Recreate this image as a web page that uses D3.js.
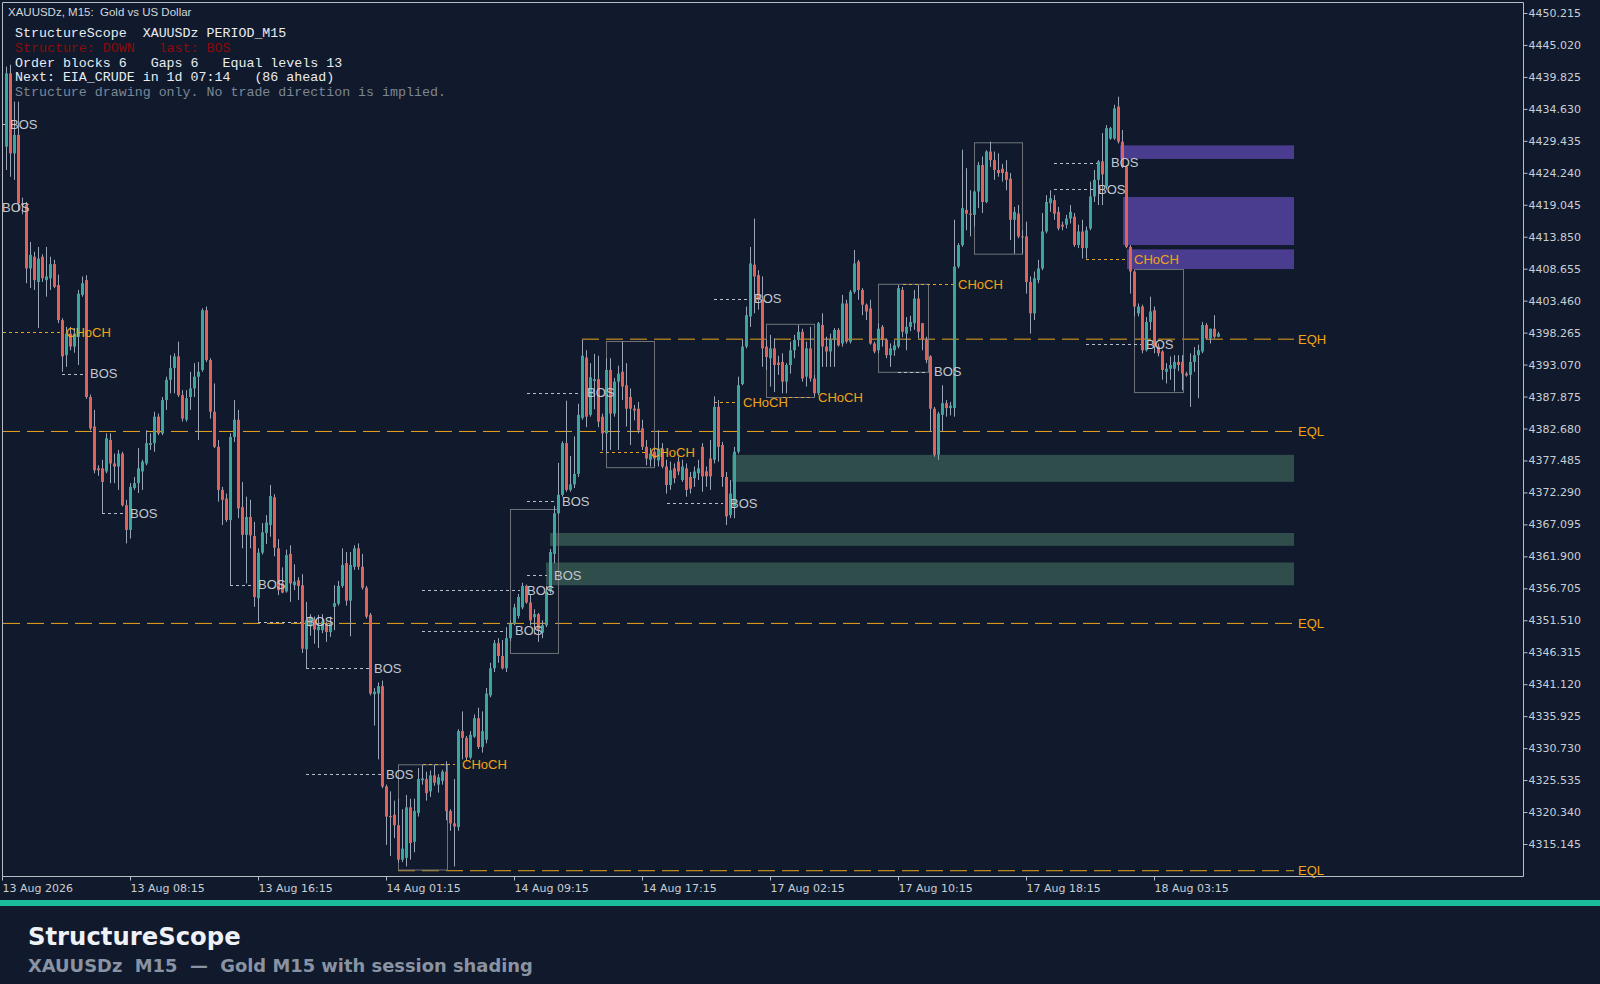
<!DOCTYPE html>
<html>
<head>
<meta charset="utf-8">
<script src="https://cdn.jsdelivr.net/npm/d3@7"></script>
<style>
  html, body { margin: 0; padding: 0; background: #101a2c; }
  svg { display: block; }
</style>
</head>
<body>
<svg id="chart" width="1600" height="984"></svg>
<script>
// ---- candle data (M15, bar index 0..303) ----
const opens = [
  4428.5,4440.4,4427.4,4430.4,4419.3,4419.0,4408.7,4410.6,4406.5,4410.6,
  4406.8,4407.1,4409.4,4406.0,4400.3,4394.6,4398.1,4396.0,4397.6,4404.4,
  4406.8,4387.8,4383.0,4376.2,4376.2,4375.7,4380.8,4377.0,4376.5,4378.6,
  4370.2,4366.2,4373.0,4373.8,4375.7,4377.0,4380.0,4380.3,4384.6,4381.9,
  4387.3,4390.6,4392.5,4394.4,4388.1,4384.1,4387.8,4389.2,4391.1,4392.2,
  4401.9,4393.8,4385.4,4379.7,4372.7,4371.3,4367.8,4381.3,4384.1,4369.9,
  4365.4,4368.3,4365.2,4355.1,4362.5,4365.7,4367.0,4371.5,4363.2,4357.5,
  4356.2,4362.3,4357.2,4358.0,4357.2,4346.8,4350.5,4351.6,4349.9,4349.9,
  4351.0,4349.6,4353.7,4354.2,4357.1,4360.8,4354.7,4360.2,4363.2,4360.2,
  4356.8,4352.4,4339.5,4339.6,4340.8,4324.5,4319.7,4319.9,4318.2,4312.6,
  4312.9,4321.1,4315.5,4320.2,4325.5,4325.7,4323.7,4326.3,4324.8,4325.4,
  4326.9,4320.5,4318.5,4317.9,4333.5,4332.4,4329.2,4332.6,4335.6,4330.9,
  4332.1,4339.3,4343.7,4347.8,4345.7,4343.7,4348.6,4350.9,4352.2,4353.6,
  4357.1,4354.4,4352.0,4352.5,4349.5,4350.7,4356.2,4362.3,4368.9,4371.9,
  4380.3,4372.7,4373.6,4375.3,4384.4,4394.2,4384.9,4390.4,4390.7,4384.6,
  4381.9,4392.2,4385.1,4390.3,4391.9,4389.7,4387.8,4385.9,4385.9,4382.7,
  4379.7,4377.6,4378.9,4377.5,4379.4,4376.5,4373.5,4376.2,4377.3,4374.3,
  4376.2,4374.8,4374.6,4375.4,4379.7,4375.7,4377.8,4377.6,4386.2,4380.0,
  4374.8,4368.6,4370.0,4378.9,4389.9,4396.0,4400.9,4409.3,4407.6,4403.6,
  4396.0,4394.1,4395.7,4393.4,4393.5,4390.3,4393.0,4395.4,4397.1,4398.4,
  4391.1,4395.7,4390.8,4388.4,4399.5,4396.0,4395.2,4397.1,4398.7,4396.5,
  4403.0,4396.8,4404.9,4409.8,4405.2,4402.8,4402.2,4396.5,4395.4,4399.2,
  4397.1,4394.6,4395.4,4396.0,4405.2,4398.1,4399.2,4399.8,4403.8,4399.8,
  4397.1,4394.4,4385.9,4378.4,4384.9,4386.8,4386.0,4386.0,4409.0,4412.5,
  4418.2,4417.6,4417.4,4421.2,4425.5,4419.5,4427.7,4426.3,4424.7,4424.9,
  4424.4,4423.3,4416.6,4417.6,4413.9,4413.9,4406.5,4401.4,4406.8,4408.7,
  4414.7,4419.3,4419.8,4417.9,4415.8,4415.8,4416.8,4417.1,4412.5,4414.7,
  4412.0,4415.2,4420.4,4423.1,4426.1,4422.0,4429.8,4429.8,4435.0,4429.3,
  4425.2,4412.2,4408.2,4401.4,4402.5,4395.4,4400.0,4401.9,4396.0,4395.2,
  4391.9,4392.4,4392.4,4393.5,4393.5,4391.6,4391.4,4393.5,4394.6,4395.2,
  4399.5,4397.3,4398.9,4397.6
];
const highs = [
  4441.5,4441.8,4435.8,4435.8,4420.2,4419.5,4413.0,4411.4,4412.2,4411.0,
  4412.2,4410.6,4410.1,4407.7,4400.6,4399.2,4399.2,4399.0,4405.2,4407.4,
  4407.6,4388.2,4385.7,4376.7,4377.6,4381.9,4381.9,4378.6,4379.2,4378.9,
  4371.1,4373.8,4374.8,4379.5,4377.6,4382.4,4381.9,4385.4,4385.1,4387.8,
  4391.1,4394.6,4394.9,4396.8,4388.9,4388.9,4391.9,4393.3,4393.5,4402.2,
  4402.5,4394.1,4390.0,4380.8,4373.2,4372.1,4381.9,4387.3,4385.7,4374.0,
  4371.6,4371.1,4367.5,4363.2,4367.3,4368.6,4373.5,4372.0,4364.7,4360.1,
  4363.0,4363.7,4360.6,4358.5,4359.0,4354.5,4352.5,4352.1,4352.4,4352.5,
  4351.3,4352.1,4357.2,4357.9,4363.2,4362.6,4362.6,4363.7,4364.0,4362.3,
  4357.1,4352.7,4340.5,4341.4,4341.7,4324.8,4323.7,4322.2,4322.5,4320.8,
  4323.1,4322.5,4322.5,4327.5,4328.0,4326.9,4327.1,4328.0,4326.5,4327.2,
  4328.6,4320.8,4325.7,4333.8,4336.7,4332.7,4333.5,4336.2,4337.3,4336.7,
  4340.5,4344.6,4348.3,4348.6,4348.3,4350.4,4351.5,4354.2,4355.8,4357.6,
  4357.3,4355.6,4353.3,4352.7,4351.5,4357.1,4363.1,4370.1,4377.1,4380.6,
  4387.2,4378.2,4381.4,4386.7,4397.1,4395.4,4393.3,4394.8,4394.5,4385.1,
  4394.1,4394.1,4390.9,4392.9,4396.8,4393.3,4389.2,4386.5,4387.0,4384.1,
  4380.8,4379.5,4379.7,4382.4,4380.3,4377.6,4377.3,4377.0,4378.1,4377.6,
  4377.0,4375.6,4376.5,4377.6,4380.3,4376.5,4380.8,4387.9,4387.3,4380.5,
  4375.6,4374.3,4379.7,4391.1,4397.1,4402.5,4412.2,4416.8,4408.4,4407.4,
  4397.1,4397.9,4397.3,4394.5,4394.9,4393.3,4396.8,4397.9,4399.5,4398.9,
  4396.8,4399.2,4391.4,4400.0,4401.4,4397.6,4398.1,4399.0,4399.0,4404.4,
  4403.6,4405.2,4411.7,4410.1,4405.5,4403.0,4403.6,4396.8,4399.8,4399.5,
  4397.3,4396.5,4397.0,4406.0,4405.7,4400.8,4401.0,4405.2,4406.0,4399.8,
  4397.6,4394.6,4386.2,4385.4,4389.7,4387.3,4387.0,4416.6,4412.8,4428.0,
  4425.0,4421.4,4421.4,4426.0,4426.9,4427.9,4429.3,4427.7,4427.4,4425.7,
  4426.3,4424.2,4418.7,4419.0,4414.9,4416.3,4407.4,4408.2,4410.1,4417.7,
  4420.6,4421.4,4420.6,4418.7,4416.3,4417.4,4419.0,4417.7,4415.8,4416.6,
  4415.5,4422.8,4424.7,4426.3,4430.7,4432.0,4431.7,4435.3,4436.6,4431.2,
  4425.5,4412.5,4408.4,4403.0,4402.8,4400.8,4404.1,4402.5,4396.5,4395.4,
  4393.3,4394.4,4394.6,4394.6,4394.6,4391.9,4394.9,4395.9,4396.3,4400.0,
  4399.8,4398.9,4401.1,4398.4
];
const lows = [
  4424.7,4423.6,4423.1,4418.2,4417.5,4406.3,4405.5,4405.2,4399.0,4406.5,
  4404.1,4405.2,4405.5,4399.8,4391.9,4392.7,4395.4,4395.0,4393.0,4404.1,
  4387.5,4382.4,4375.4,4375.0,4368.9,4375.4,4373.8,4373.8,4372.7,4370.0,
  4364.0,4364.8,4372.7,4372.2,4372.7,4376.7,4379.2,4378.9,4381.6,4381.6,
  4385.7,4388.4,4388.4,4387.8,4383.8,4383.8,4385.7,4387.8,4380.8,4391.9,
  4393.5,4384.3,4379.5,4370.8,4367.0,4367.5,4357.2,4380.5,4368.1,4363.2,
  4357.5,4363.2,4353.7,4351.3,4362.2,4363.9,4365.1,4361.9,4355.6,4355.9,
  4356.0,4354.5,4356.4,4354.8,4346.2,4343.7,4349.0,4347.7,4347.0,4349.4,
  4348.0,4348.8,4349.9,4353.9,4356.8,4353.9,4348.9,4359.7,4359.7,4356.5,
  4351.8,4339.3,4334.4,4328.9,4324.2,4315.0,4313.2,4316.1,4312.1,4312.2,
  4311.5,4312.6,4313.8,4319.6,4324.8,4322.2,4322.8,4324.6,4323.5,4324.8,
  4319.0,4317.3,4311.5,4317.3,4328.9,4328.6,4328.9,4332.4,4330.6,4330.0,
  4331.5,4339.0,4343.1,4344.6,4343.5,4343.1,4348.1,4350.7,4351.8,4353.3,
  4354.2,4350.7,4349.2,4348.0,4348.6,4350.4,4355.9,4360.8,4368.7,4371.6,
  4372.4,4372.4,4373.0,4374.8,4384.1,4382.9,4384.6,4385.8,4382.9,4379.1,
  4378.6,4379.2,4384.6,4379.2,4387.3,4383.0,4380.0,4384.0,4381.9,4379.2,
  4376.7,4376.5,4376.5,4376.5,4376.2,4372.1,4372.7,4373.8,4375.1,4374.0,
  4371.6,4372.1,4373.2,4374.3,4372.4,4373.2,4372.7,4377.0,4377.3,4373.2,
  4367.0,4368.1,4368.1,4378.6,4389.7,4395.7,4399.2,4401.4,4402.0,4392.7,
  4392.2,4389.5,4388.6,4391.4,4388.4,4388.4,4391.6,4394.1,4396.0,4390.3,
  4389.5,4390.3,4387.9,4388.1,4392.7,4392.7,4392.7,4392.7,4396.0,4396.0,
  4396.5,4396.5,4404.6,4403.6,4401.1,4400.3,4396.3,4394.9,4394.9,4396.0,
  4394.1,4392.7,4394.5,4395.7,4397.5,4395.4,4398.5,4398.7,4397.3,4395.4,
  4393.3,4382.2,4378.1,4377.6,4382.2,4384.6,4384.8,4384.6,4408.7,4412.2,
  4414.9,4413.9,4415.5,4418.5,4417.7,4419.3,4425.2,4423.1,4423.6,4422.8,
  4421.4,4413.3,4411.1,4413.6,4411.1,4404.6,4398.1,4400.3,4406.3,4408.4,
  4414.4,4417.9,4416.6,4414.9,4414.9,4415.2,4416.0,4412.2,4412.0,4410.3,
  4410.3,4414.9,4419.5,4419.0,4419.0,4421.5,4429.6,4429.6,4429.0,4425.0,
  4412.0,4404.6,4400.9,4400.9,4394.9,4395.2,4398.7,4394.9,4394.4,4390.6,
  4390.0,4390.6,4388.7,4392.0,4388.9,4391.1,4386.2,4391.9,4387.6,4394.9,
  4397.1,4396.5,4397.3,4397.5
];
const closes = [
  4440.4,4427.4,4430.4,4419.3,4419.0,4408.7,4410.9,4406.8,4410.3,4407.1,
  4407.4,4409.4,4405.7,4400.3,4394.4,4398.1,4396.0,4398.1,4404.6,4406.3,
  4387.8,4382.7,4375.9,4375.9,4374.0,4381.1,4377.0,4376.5,4378.6,4370.2,
  4366.2,4373.2,4373.8,4376.2,4377.3,4380.3,4380.3,4384.6,4381.9,4387.3,
  4390.6,4392.5,4394.4,4388.1,4384.3,4387.6,4389.2,4391.1,4391.9,4401.9,
  4393.8,4385.4,4379.7,4372.7,4371.1,4367.8,4381.3,4384.1,4369.7,4365.4,
  4368.3,4365.3,4355.3,4362.5,4365.8,4367.4,4371.7,4363.3,4356.4,4356.0,
  4362.1,4357.5,4357.8,4357.1,4346.9,4351.5,4352.1,4350.0,4350.5,4351.3,
  4349.6,4351.0,4354.3,4357.1,4360.5,4354.7,4360.5,4363.2,4360.2,4356.8,
  4352.1,4339.6,4339.9,4340.8,4324.5,4319.6,4319.5,4318.2,4312.6,4314.4,
  4321.1,4315.3,4320.5,4325.7,4325.8,4323.4,4326.3,4325.1,4326.0,4326.9,
  4320.5,4318.5,4318.0,4333.5,4332.4,4329.2,4332.9,4335.6,4330.9,4333.5,
  4339.6,4343.7,4347.8,4345.7,4343.7,4348.6,4350.9,4353.6,4355.3,4357.1,
  4354.4,4351.5,4352.5,4350.0,4350.7,4356.2,4362.6,4368.9,4371.9,4380.3,
  4372.7,4373.6,4375.3,4384.9,4394.5,4384.6,4391.0,4390.7,4383.8,4381.9,
  4392.2,4385.1,4390.3,4391.6,4389.5,4385.9,4385.9,4385.6,4382.4,4379.7,
  4377.8,4378.6,4377.8,4379.4,4376.5,4373.5,4375.9,4374.6,4375.7,4376.5,
  4372.7,4372.9,4375.7,4376.2,4374.9,4374.9,4374.9,4386.2,4379.7,4374.8,
  4368.4,4372.1,4378.9,4389.7,4396.0,4401.1,4409.5,4407.4,4403.6,4395.7,
  4394.3,4395.7,4393.0,4393.0,4390.3,4393.0,4395.4,4397.1,4398.4,4390.8,
  4395.7,4390.8,4388.4,4399.8,4396.0,4395.2,4397.1,4398.7,4396.2,4403.0,
  4396.8,4404.9,4409.5,4405.2,4402.8,4401.7,4396.5,4395.2,4398.9,4397.1,
  4394.6,4395.7,4396.2,4405.5,4398.4,4399.2,4400.0,4403.8,4398.4,4397.1,
  4393.8,4385.9,4378.4,4385.1,4386.8,4386.0,4386.4,4409.0,4412.5,4418.5,
  4417.6,4417.4,4421.2,4425.5,4419.5,4427.7,4426.3,4424.7,4424.2,4424.2,
  4423.1,4416.6,4417.9,4413.9,4413.8,4406.5,4401.4,4407.1,4408.7,4414.7,
  4419.5,4420.1,4417.6,4415.2,4415.5,4416.8,4417.9,4412.5,4414.7,4412.0,
  4414.9,4420.4,4423.1,4426.1,4424.0,4431.5,4431.5,4434.7,4429.3,4425.2,
  4412.2,4408.2,4402.5,4402.5,4395.4,4400.0,4401.7,4396.0,4394.9,4392.2,
  4392.4,4393.0,4393.5,4393.0,4391.6,4391.3,4393.5,4394.6,4395.4,4399.5,
  4397.3,4398.9,4397.6,4398.1
];

// ---- axis ticks ----
const priceTicks = [4450.215,4445.020,4439.825,4434.630,4429.435,4424.240,4419.045,
  4413.850,4408.655,4403.460,4398.265,4393.070,4387.875,4382.680,4377.485,4372.290,
  4367.095,4361.900,4356.705,4351.510,4346.315,4341.120,4335.925,4330.730,4325.535,
  4320.340,4315.145];
const timeTickBars = [-1, 31, 63, 95, 127, 159, 191, 223, 255, 287];
const timeTickLabels = ["13 Aug 2026","13 Aug 08:15","13 Aug 16:15","14 Aug 01:15",
  "14 Aug 09:15","14 Aug 17:15","17 Aug 02:15","17 Aug 10:15","17 Aug 18:15","18 Aug 03:15"];

// ---- structure marks: [kind, lineFromBar, lineToBar, textBar, price] ----
const breaks = [
  ["BOS",  -0.75, 0.5,  1.0,  4432.2],
  ["BOS",  -1.75, -1.75, -1.0, 4418.7],
  ["CHoCH",-0.75, 13.75, 15,  4398.3],
  ["BOS",  14, 19.5, 21, 4391.6],
  ["BOS",  24, 29.25, 31, 4368.9],
  ["BOS",  56, 61.5, 63, 4357.3],
  ["BOS",  63, 74.75, 75, 4351.3],
  ["BOS",  75, 91, 92, 4343.7],
  ["BOS",  75, 94, 95, 4326.5],
  ["CHoCH",104.25, 112.25, 114, 4328.1],
  ["BOS",  104, 125.25, 127.25, 4349.8],
  ["BOS",  104, 128.5, 130.25, 4356.4],
  ["BOS",  130.25, 135.25, 137, 4358.8],
  ["BOS",  130.25, 138, 139, 4370.9],
  ["BOS",  130.25, 143.5, 145.25, 4388.5],
  ["CHoCH",148.5, 160.25, 161, 4378.8],
  ["BOS",  165.25, 179.25, 181, 4370.6],
  ["CHoCH",177, 182.75, 184.25, 4387.0],
  ["BOS",  177, 185.25, 187, 4403.8],
  ["CHoCH",194.25, 201.75, 203, 4387.8],
  ["BOS",  223, 230.25, 232, 4391.9],
  ["CHoCH",224.25, 236.75, 238, 4406.1],
  ["BOS",  262, 273.5, 276.25, 4425.9],
  ["BOS",  262, 272.25, 273, 4421.55],
  ["CHoCH",270, 280.25, 282, 4410.2],
  ["BOS",  270, 284.25, 285, 4396.4]
];
// order-block boxes: [fromBar, toBar, top, bottom]
const orderBlocks = [
  [98, 110.25, 4328.1, 4311.0],
  [126, 138, 4369.6, 4346.2],
  [150, 162, 4396.9, 4376.4],
  [190, 202, 4399.7, 4387.8],
  [218, 230.5, 4406.2, 4391.9],
  [242, 254, 4429.2, 4411.1],
  [282, 294.25, 4408.6, 4388.6]
];
// gaps: [fromBar, top, bottom, side]
const gaps = [
  [181.5, 4378.4, 4374.0, "bull"],
  [136, 4365.7, 4363.6, "bull"],
  [135, 4360.9, 4357.2, "bull"],
  [278.5, 4428.7, 4426.5, "bear"],
  [279.25, 4420.3, 4412.5, "bear"],
  [280.25, 4411.8, 4408.6, "bear"]
];
// equal levels: [fromBar, price, label]
const equalLevels = [
  [144, 4397.2, "EQH"],
  [-0.75, 4382.2, "EQL"],
  [-0.75, 4351.0, "EQL"],
  [98, 4310.8, "EQL"]
];
const extendToBar = 322;

const headerLines = [
  ["StructureScope  XAUUSDz PERIOD_M15", "#e9ecf1"],
  ["Structure: DOWN   last: BOS", "#8b0a0a"],
  ["Order blocks 6   Gaps 6   Equal levels 13", "#e9ecf1"],
  ["Next: EIA_CRUDE in 1d 07:14   (86 ahead)", "#e9ecf1"],
  ["Structure drawing only. No trade direction is implied.", "#7c8696"]
];

// ---- layout ----
const W = 1600, H = 984;
const frame = { left: 2, top: 2, right: 1523, bottom: 876 };
const BG = "#101a2c";
const UP = "#3ba69f", DOWN = "#e0635b", WICK = "#9aa6b8";
const AMBER = "#e8a41c", LABEL = "#c3c8d0";
const axisFont = "'DejaVu Sans', Verdana, sans-serif";

const svg = d3.select("#chart");
svg.append("rect").attr("width", W).attr("height", H).attr("fill", BG);

const x = d3.scaleLinear().domain([0, 303]).range([6, 6 + 4 * 303]);
const y = d3.scaleLinear().domain([4315.145, 4450.215]).range([844, 13]);

const bars = closes.map((c, i) => ({ i, o: opens[i], h: highs[i], l: lows[i], c }));

const plot = svg.append("g");

// gap zones
plot.append("g").selectAll("rect").data(gaps).join("rect")
  .attr("x", d => x(d[0]))
  .attr("y", d => y(d[1]))
  .attr("width", d => x(extendToBar) - x(d[0]))
  .attr("height", d => y(d[2]) - y(d[1]))
  .attr("fill", d => d[3] === "bull" ? "#2e4d4b" : "#4a3d8f");

// equal levels
plot.append("g").selectAll("line").data(equalLevels).join("line")
  .attr("x1", d => x(d[0])).attr("x2", x(extendToBar))
  .attr("y1", d => y(d[1])).attr("y2", d => y(d[1]))
  .attr("stroke", AMBER).attr("stroke-width", 1)
  .attr("stroke-dasharray", "17,7");

// order block boxes
plot.append("g").selectAll("rect").data(orderBlocks).join("rect")
  .attr("x", d => x(d[0]) + 0.5)
  .attr("y", d => y(d[2]) + 0.5)
  .attr("width", d => x(d[1]) - x(d[0]))
  .attr("height", d => y(d[3]) - y(d[2]))
  .attr("fill", "none").attr("stroke", "#6f7379").attr("stroke-width", 1);

// break lines
plot.append("g").selectAll("line").data(breaks.filter(d => d[2] > d[1])).join("line")
  .attr("x1", d => x(d[1])).attr("x2", d => x(d[2]))
  .attr("y1", d => Math.round(y(d[4])) + 0.5).attr("y2", d => Math.round(y(d[4])) + 0.5)
  .attr("stroke", d => d[0] === "BOS" ? "#b9bfc8" : AMBER)
  .attr("stroke-width", 1).attr("stroke-dasharray", "3,3");

// candles
const candle = plot.append("g").selectAll("g").data(bars).join("g");
candle.append("line")
  .attr("x1", d => Math.round(x(d.i)) + 0.5).attr("x2", d => Math.round(x(d.i)) + 0.5)
  .attr("y1", d => y(d.h)).attr("y2", d => y(d.l))
  .attr("stroke", WICK).attr("stroke-width", 1);
candle.append("rect")
  .attr("x", d => Math.round(x(d.i)) - 1)
  .attr("width", 3)
  .attr("y", d => y(Math.max(d.o, d.c)))
  .attr("height", d => Math.max(1, Math.abs(y(d.o) - y(d.c))))
  .attr("fill", d => d.c >= d.o ? UP : DOWN);

// break labels
plot.append("g").selectAll("text").data(breaks).join("text")
  .attr("x", d => x(d[3]))
  .attr("y", d => y(d[4]))
  .attr("dy", "0.36em")
  .attr("font-family", "'Liberation Sans', Arial, sans-serif")
  .attr("font-size", 13)
  .attr("fill", d => d[0] === "BOS" ? LABEL : "#f0a416")
  .text(d => d[0]);

// equal level labels
plot.append("g").selectAll("text").data(equalLevels).join("text")
  .attr("x", x(extendToBar) + 4)
  .attr("y", d => y(d[1]))
  .attr("dy", "0.36em")
  .attr("font-family", "'Liberation Sans', Arial, sans-serif")
  .attr("font-size", 13)
  .attr("fill", "#f0a416")
  .text(d => d[2]);

// ---- frame & axes ----
const frameColor = "#b7bcc5";
svg.append("path")
  .attr("d", `M${frame.left + 0.5},${frame.bottom + 0.5}V${frame.top + 0.5}H${frame.right + 0.5}V${frame.bottom + 0.5}Z`)
  .attr("fill", "none").attr("stroke", frameColor).attr("stroke-width", 1);

const yAxis = svg.append("g")
  .attr("transform", `translate(${frame.right + 0.5},0)`)
  .call(d3.axisRight(y).tickValues(priceTicks).tickFormat(d3.format(".3f")).tickSize(4).tickPadding(1));
yAxis.select(".domain").remove();
yAxis.selectAll("line").attr("stroke", frameColor);
yAxis.selectAll("text")
  .attr("fill", "#c9ced6")
  .attr("font-family", axisFont)
  .attr("font-size", 11);

const xAxis = svg.append("g")
  .attr("transform", `translate(0,${frame.bottom + 0.5})`)
  .call(d3.axisBottom(x).tickValues(timeTickBars)
    .tickFormat((d, k) => timeTickLabels[k]).tickSize(4).tickPadding(4));
xAxis.select(".domain").remove();
xAxis.selectAll("line").attr("stroke", frameColor);
xAxis.selectAll("text")
  .attr("text-anchor", "start")
  .attr("fill", "#c9ced6")
  .attr("font-family", axisFont)
  .attr("font-size", 11);

// ---- header texts ----
svg.append("text")
  .attr("x", 8).attr("y", 16)
  .attr("font-family", "'Liberation Sans', Arial, sans-serif")
  .attr("font-size", 11.5)
  .attr("fill", "#d3d7de")
  .style("white-space", "pre")
  .text("XAUUSDz, M15:  Gold vs US Dollar");

svg.append("g").selectAll("text").data(headerLines).join("text")
  .attr("x", 15)
  .attr("y", (d, k) => 37 + k * 14.75)
  .attr("font-family", "'Liberation Mono', 'DejaVu Sans Mono', monospace")
  .attr("font-size", 13.3)
  .attr("fill", d => d[1])
  .style("white-space", "pre")
  .text(d => d[0]);

// ---- footer ----
svg.append("rect").attr("x", 0).attr("y", 900).attr("width", W).attr("height", 6).attr("fill", "#1abc9c");
svg.append("text")
  .attr("x", 28).attr("y", 945)
  .attr("font-family", "'DejaVu Sans', Verdana, sans-serif")
  .attr("font-weight", 700).attr("font-size", 24.3)
  .attr("fill", "#eef1f5")
  .text("StructureScope");
svg.append("text")
  .attr("x", 28).attr("y", 972)
  .attr("font-family", "'DejaVu Sans', Verdana, sans-serif")
  .attr("font-weight", 700).attr("font-size", 17.9)
  .attr("fill", "#8a93a3")
  .style("white-space", "pre")
  .text("XAUUSDz  M15  \u2014  Gold M15 with session shading");
</script>
</body>
</html>
